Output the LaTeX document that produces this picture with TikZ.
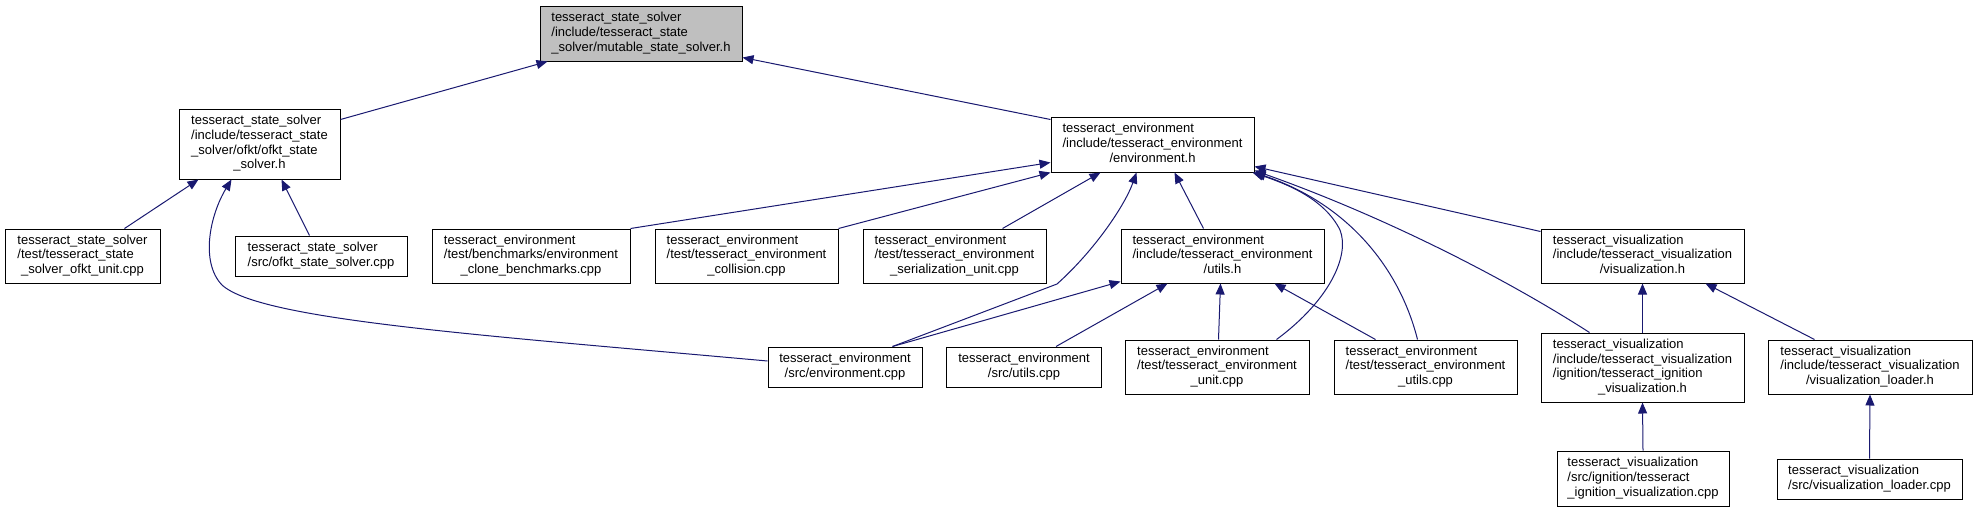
\documentclass[tikz,border=0pt]{standalone}
\usepackage{fontspec}
\setmainfont{Liberation Sans}
\usetikzlibrary{arrows.meta,calc}
\definecolor{edgeblue}{HTML}{191970}
\definecolor{hdrgray}{HTML}{BFBFBF}
\newcommand{\flines}[2]{\begin{tabular}{@{}l@{}}#1\\\multicolumn{1}{@{}c@{}}{#2}\end{tabular}}

\begin{document}
\begin{tikzpicture}[x=1pt, y=-1pt,
  every node/.style={font=\fontsize{13}{14.7}\selectfont},
  srcbox/.style={draw=black, fill=white, line width=1pt, inner sep=0pt},
  incl/.style={draw=edgeblue, line width=1pt, -{Triangle[length=11pt,width=9pt]}}]
  \useasboundingbox (0,0) rectangle (1976,512);

  % header in question
  \node[srcbox, fill=hdrgray, minimum width=202pt, minimum height=55pt] (mss) at (641,33.5)
    {\flines{tesseract\_state\_solver\\/include/tesseract\_state}{\_solver/mutable\_state\_solver.h}};

  % state solver side
  \node[srcbox, minimum width=161pt, minimum height=70pt] (ofkth) at (259.5,144)
    {\flines{tesseract\_state\_solver\\/include/tesseract\_state\\\_solver/ofkt/ofkt\_state}{\_solver.h}};
  \node[srcbox, minimum width=155pt, minimum height=54pt] (ofktunit) at (82.5,256)
    {\flines{tesseract\_state\_solver\\/test/tesseract\_state}{\_solver\_ofkt\_unit.cpp}};
  \node[srcbox, minimum width=172pt, minimum height=40pt] (ofktcpp) at (321,256)
    {\flines{tesseract\_state\_solver}{/src/ofkt\_state\_solver.cpp}};

  % environment side
  \node[srcbox, minimum width=203pt, minimum height=55pt] (envh) at (1152.5,144.5)
    {\flines{tesseract\_environment\\/include/tesseract\_environment}{/environment.h}};
  \node[srcbox, minimum width=198pt, minimum height=54pt] (clone) at (531,256)
    {\flines{tesseract\_environment\\/test/benchmarks/environment}{\_clone\_benchmarks.cpp}};
  \node[srcbox, minimum width=183pt, minimum height=54pt] (collision) at (746.5,256)
    {\flines{tesseract\_environment\\/test/tesseract\_environment}{\_collision.cpp}};
  \node[srcbox, minimum width=183pt, minimum height=54pt] (serial) at (954.5,256)
    {\flines{tesseract\_environment\\/test/tesseract\_environment}{\_serialization\_unit.cpp}};
  \node[srcbox, minimum width=203pt, minimum height=54pt] (utilsh) at (1222.5,256)
    {\flines{tesseract\_environment\\/include/tesseract\_environment}{/utils.h}};
  \node[srcbox, minimum width=154pt, minimum height=40pt] (envcpp) at (845,367)
    {\flines{tesseract\_environment}{/src/environment.cpp}};
  \node[srcbox, minimum width=155pt, minimum height=40pt] (utilscpp) at (1024,367)
    {\flines{tesseract\_environment}{/src/utils.cpp}};
  \node[srcbox, minimum width=184pt, minimum height=54pt] (envunit) at (1217,367)
    {\flines{tesseract\_environment\\/test/tesseract\_environment}{\_unit.cpp}};
  \node[srcbox, minimum width=183pt, minimum height=54pt] (envutils) at (1425.5,367)
    {\flines{tesseract\_environment\\/test/tesseract\_environment}{\_utils.cpp}};

  % visualization side
  \node[srcbox, minimum width=203pt, minimum height=54pt] (vish) at (1642.5,256)
    {\flines{tesseract\_visualization\\/include/tesseract\_visualization}{/visualization.h}};
  \node[srcbox, minimum width=203pt, minimum height=69pt] (ignh) at (1642.5,367.5)
    {\flines{tesseract\_visualization\\/include/tesseract\_visualization\\/ignition/tesseract\_ignition}{\_visualization.h}};
  \node[srcbox, minimum width=204pt, minimum height=54pt] (loaderh) at (1870,367)
    {\flines{tesseract\_visualization\\/include/tesseract\_visualization}{/visualization\_loader.h}};
  \node[srcbox, minimum width=172pt, minimum height=55pt] (igncpp) at (1643,478.5)
    {\flines{tesseract\_visualization\\/src/ignition/tesseract}{\_ignition\_visualization.cpp}};
  \node[srcbox, minimum width=185pt, minimum height=40pt] (loadercpp) at (1869.5,479)
    {\flines{tesseract\_visualization}{/src/visualization\_loader.cpp}};

  % includes of mutable_state_solver.h
  \draw[incl] ($(ofkth.north east)+(0,11)$) -- ($(mss.south west)+(8,0)$);
  \draw[incl] ($(envh.north west)+(0,3)$) -- ($(mss.south east)+(0,-4)$);

  % includes of ofkt_state_solver.h
  \draw[incl] ($(ofktunit.north west)+(120,0)$) -- ($(ofkth.south west)+(20,0)$);
  \draw[incl] ($(ofktcpp.north west)+(75,0)$) -- ($(ofkth.south west)+(103,0)$);
  \draw[incl] ($(envcpp.west)+(0,-6)$) .. controls (480,335) and (260,320) .. (222,285)
    .. controls (200,262) and (210,215) .. ($(ofkth.south west)+(53,0)$);

  % includes of environment.h
  \draw[incl] (clone.north east) -- ($(envh.south west)+(0,-10)$);
  \draw[incl] (collision.north east) -- (envh.south west);
  \draw[incl] ($(serial.north west)+(140,0)$) -- ($(envh.south west)+(50,0)$);
  \draw[incl] ($(envcpp.north east)+(-30,0)$) -- (1057,284)
    .. controls (1095,250) and (1125,205) .. ($(envh.south west)+(86,0)$);
  \draw[incl] ($(utilsh.north west)+(83,0)$) -- ($(envh.south west)+(124,0)$);
  \draw[incl] ($(envunit.north west)+(152,0)$) .. controls (1330,300) and (1350,255) .. (1340,230)
    .. controls (1325,200) and (1290,185) .. ($(envh.south east)+(-2,0)$);
  \draw[incl] ($(envutils.north west)+(84,0)$) .. controls (1400,270) and (1350,205) .. (envh.south east);
  \draw[incl] ($(ignh.north west)+(49,0)$) .. controls (1500,275) and (1380,215) .. ($(envh.south east)+(0,-2)$);
  \draw[incl] ($(vish.north west)+(0,3)$) -- ($(envh.south east)+(0,-6)$);

  % includes of utils.h
  \draw[incl] ($(envcpp.north east)+(-30,0)$) -- ($(utilsh.south west)+(0,-2)$);
  \draw[incl] ($(utilscpp.north west)+(110,0)$) -- ($(utilsh.south west)+(47,0)$);
  \draw[incl] ($(envunit.north west)+(94,0)$) -- ($(utilsh.south west)+(100,0)$);
  \draw[incl] ($(envutils.north west)+(42,0)$) -- ($(utilsh.south west)+(154,0)$);

  % visualization headers
  \draw[incl] (ignh.north) -- (vish.south);
  \draw[incl] ($(loaderh.north west)+(47,0)$) -- ($(vish.south east)+(-39,0)$);
  \draw[incl] (igncpp.north) -- (ignh.south);
  \draw[incl] (loadercpp.north) -- (loaderh.south);
\end{tikzpicture}
\end{document}
